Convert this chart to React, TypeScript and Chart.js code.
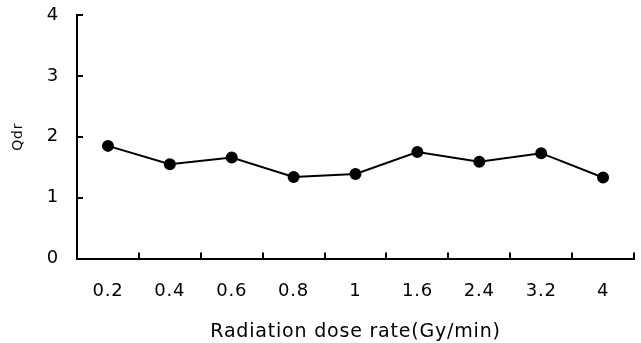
import React, { useEffect, useRef } from "react";
import { Chart, registerables } from "chart.js";

Chart.register(...registerables);

const categories = ["0.2", "0.4", "0.6", "0.8", "1", "1.6", "2.4", "3.2", "4"];
const qdrValues = [1.85, 1.55, 1.66, 1.34, 1.39, 1.75, 1.59, 1.73, 1.33];
const yTicks = [0, 1, 2, 3, 4];
const xTitle = "Radiation dose rate(Gy/min)";
const yTitle = "Qdr";

const FONT = "'DejaVu Sans', sans-serif";

const spacing = {
  id: "spacing",
  beforeDraw(chart: any) {
    chart.ctx.letterSpacing = "0.8px";
  },
};

const inwardTicks = {
  id: "inwardTicks",
  afterDraw(chart: any) {
    const { ctx, chartArea, scales } = chart;
    const xs = scales.x;
    const ys = scales.y;
    ctx.save();
    ctx.strokeStyle = "#000";
    ctx.lineWidth = 2;
    ctx.beginPath();
    ys.ticks.forEach((_t: any, i: number) => {
      const py = Math.round(ys.getPixelForTick(i));
      ctx.moveTo(chartArea.left, py);
      ctx.lineTo(chartArea.left + 6, py);
    });
    for (let i = 0; i < categories.length; i++) {
      const px = Math.round(xs.getPixelForValue(i + 0.5));
      ctx.moveTo(px, chartArea.bottom);
      ctx.lineTo(px, chartArea.bottom - 6);
    }
    ctx.stroke();
    ctx.restore();
  },
};

export default function App() {
  const ref = useRef<HTMLCanvasElement>(null);
  useEffect(() => {
    document.body.style.margin = "0";
    const chart = new Chart(ref.current!, {
      type: "line",
      data: {
        labels: categories,
        datasets: [
          {
            data: qdrValues,
            borderColor: "#000",
            backgroundColor: "#000",
            borderWidth: 2,
            pointRadius: 5,
            pointBackgroundColor: "#000",
            pointBorderColor: "#000",
            tension: 0,
          },
        ],
      },
      options: {
        responsive: false,
        animation: false,
        devicePixelRatio: 1,
        layout: { padding: { top: 15, right: 7, left: 0, bottom: 0 } },
        plugins: { legend: { display: false }, tooltip: { enabled: false } },
        scales: {
          x: {
            type: "category",
            offset: true,
            grid: { display: false, drawTicks: false },
            border: { display: true, color: "#000", width: 2 },
            ticks: { color: "#000", padding: 22, font: { family: FONT, size: 18 }, maxRotation: 0 },
            title: {
              display: true,
              text: xTitle,
              color: "#000",
              font: { family: FONT, size: 19 },
              padding: { top: 0, bottom: 0 },
            },
            afterFit(scale: any) {
              scale.height = 84.5;
              scale.paddingLeft = 0;
              scale.paddingRight = 0;
            },
          },
          y: {
            min: 0,
            max: 4,
            afterBuildTicks(scale: any) {
              scale.ticks = yTicks.map((v) => ({ value: v }));
            },
            grid: { display: false, drawTicks: false },
            border: { display: true, color: "#000", width: 2 },
            ticks: { color: "#000", padding: 18, font: { family: FONT, size: 18 } },
            title: {
              display: true,
              text: yTitle,
              color: "#000",
              font: { family: FONT, size: 14 },
              padding: { top: 10, bottom: 0 },
            },
            afterFit(scale: any) {
              scale.width = 77;
              scale.paddingTop = 0;
              scale.paddingBottom = 0;
            },
          },
        },
      },
      plugins: [spacing, inwardTicks],
    });
    return () => chart.destroy();
  }, []);
  return (
    <div style={{ width: 641, height: 343, background: "#fff" }}>
      <canvas ref={ref} width={641} height={343} style={{ display: "block" }} />
    </div>
  );
}
